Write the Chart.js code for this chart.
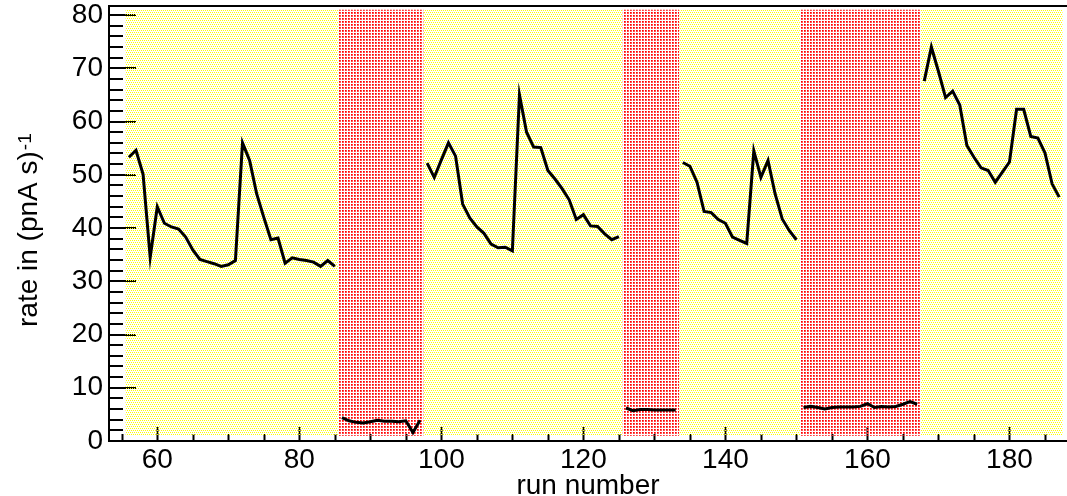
<!DOCTYPE html>
<html>
<head>
<meta charset="utf-8">
<script src="https://cdn.jsdelivr.net/npm/chart.js@4.4.1/dist/chart.umd.min.js"></script>
<style>
  html, body { margin: 0; padding: 0; background: #fff; }
  canvas { display: block; }
</style>
</head>
<body>
<canvas id="rateChart" width="1067" height="496"></canvas>
<script>
// run blocks: yellow = production target, red = empty target
const blockStart = [55.5, 85.5, 97.5, 125.5, 133.5, 150.5, 167.5];
const blockEnd   = [85.5, 97.5, 125.5, 133.5, 150.5, 167.5, 187.5];
const blockKind  = ['y', 'r', 'y', 'r', 'y', 'r', 'y'];

// first run number of each block, rates follow run by run
const firstRun = [56, 86, 98, 126, 134, 151, 168];
const rateA = [53.3, 54.6, 50.1, 34.5, 44.0, 40.9, 40.2, 39.8, 38.3, 35.9, 34.1, 33.7, 33.3, 32.8, 33.1,
               33.9, 56.0, 52.7, 46.4, 42.0, 37.8, 38.1, 33.4, 34.4, 34.1, 33.9, 33.6, 32.8, 33.9, 32.8];
const rateB = [4.4, 3.8, 3.5, 3.4, 3.6, 3.9, 3.7, 3.7, 3.6, 3.8, 1.6, 3.9];
const rateC = [52.2, 49.5, 52.8, 56.0, 53.5, 44.5, 41.9, 40.2, 39.0, 37.0, 36.3, 36.4, 35.7, 65.0,
               58.0, 55.2, 55.1, 50.8, 49.2, 47.4, 45.3, 41.6, 42.5, 40.4, 40.3, 38.9, 37.8, 38.4];
const rateD = [6.2, 5.7, 5.9, 5.9, 5.8, 5.8, 5.8, 5.8];
const rateE = [52.3, 51.6, 48.6, 43.1, 42.9, 41.6, 40.9, 38.3, 37.7, 37.1, 54.5, 49.5, 52.7, 46.4,
               41.7, 39.5, 37.8];
const rateF = [6.3, 6.5, 6.3, 6.0, 6.3, 6.4, 6.4, 6.4, 6.5, 7.0, 6.3, 6.5, 6.4, 6.5, 6.9, 7.4, 6.9];
const rateG = [67.6, 74.0, 69.4, 64.5, 65.7, 63.1, 55.5, 53.3, 51.3, 50.8, 48.6, 50.5, 52.4, 62.3,
               62.3, 57.2, 56.9, 54.1, 48.3, 45.8];
const rates = [rateA, rateB, rateC, rateD, rateE, rateF, rateG];

// tick labels
const xLabels = [60, 80, 100, 120, 140, 160, 180];
const yLabels = [0, 10, 20, 30, 40, 50, 60, 70, 80];

const FONT = 'Liberation Sans, Arial, Helvetica, sans-serif';
const canvas = document.getElementById('rateChart');
const ctx = canvas.getContext('2d');

// dotted fill like a ROOT hatch style: [colour, x, y] per pixel of the tile
function dotPattern(size, cells) {
  const tile = document.createElement('canvas');
  tile.width = tile.height = size;
  const g = tile.getContext('2d');
  cells.forEach(([c, i, j]) => {
    g.fillStyle = c;
    g.fillRect(i, j, 1, 1);
  });
  return ctx.createPattern(tile, 'repeat');
}
const Y = '#ffff00';
const yellowFill = dotPattern(4, [[Y, 0, 0], [Y, 2, 0], [Y, 1, 2], [Y, 3, 2]]);
const redFill = dotPattern(3, [['#ff0000', 0, 0], ['#ff4040', 1, 0], ['#ff4040', 0, 1], ['#ff6060', 1, 1]]);

const blockSets = blockStart.map((s, i) => ({
  data: [{x: s, y: 81}, {x: blockEnd[i], y: 81}],
  fill: {value: 1},
  backgroundColor: blockKind[i] === 'y' ? yellowFill : redFill,
  borderWidth: 0,
  pointRadius: 0,
  order: 2
}));

const lineSets = rates.map((vals, i) => ({
  data: vals.map((v, k) => ({x: firstRun[i] + k, y: v})),
  borderColor: '#000',
  borderWidth: 3,
  pointRadius: 0,
  fill: false,
  tension: 0,
  order: 1
}));

// inward ticks, frame and axis titles
const rootAxes = {
  id: 'rootAxes',
  beforeDatasetsDraw(chart) {
    const {ctx, chartArea, scales: {x, y}} = chart;
    ctx.save();
    ctx.strokeStyle = '#000';
    ctx.lineWidth = 2;
    ctx.beginPath();
    x.ticks.forEach(t => {
      const px = Math.round(x.getPixelForValue(t.value)) + 0.5;
      const len = xLabels.includes(t.value) ? 14 : 7;
      ctx.moveTo(px, chartArea.bottom);
      ctx.lineTo(px, chartArea.bottom - len);
    });
    y.ticks.forEach(t => {
      const py = Math.round(y.getPixelForValue(t.value));
      const len = yLabels.includes(t.value) ? 27 : 14;
      ctx.moveTo(chartArea.left, py);
      ctx.lineTo(chartArea.left + len, py);
    });
    ctx.stroke();
    ctx.restore();
  },
  afterDraw(chart) {
    const {ctx, chartArea} = chart;
    ctx.save();
    ctx.strokeStyle = '#000';
    ctx.lineWidth = 2;
    ctx.beginPath();
    ctx.moveTo(chartArea.left, chartArea.top);
    ctx.lineTo(chart.width, chartArea.top);
    ctx.stroke();

    ctx.fillStyle = '#000';
    ctx.textBaseline = 'alphabetic';
    ctx.font = '28px ' + FONT;
    ctx.textAlign = 'center';
    ctx.fillText('run number', (chartArea.left + chartArea.right) / 2, chart.height - 2);

    ctx.translate(37, 327);
    ctx.rotate(-Math.PI / 2);
    ctx.textAlign = 'left';
    ctx.fillText('rate in (pnA s)', 0, 0);
    const w = ctx.measureText('rate in (pnA s)').width;
    ctx.font = '19px ' + FONT;
    ctx.fillText('-1', w + 1, -6);
    ctx.restore();
  }
};

new Chart(ctx, {
  type: 'line',
  data: {datasets: [...lineSets, ...blockSets]},
  options: {
    responsive: false,
    animation: false,
    devicePixelRatio: 1,
    layout: {padding: {top: 6, right: 0, left: 0, bottom: 0}},
    plugins: {legend: {display: false}, tooltip: {enabled: false}},
    scales: {
      x: {
        type: 'linear',
        min: 53.2,
        max: 188.1,
        afterBuildTicks: scale => {
          const ticks = [];
          for (let v = 55; v <= 185; v += 5) ticks.push({value: v});
          scale.ticks = ticks;
        },
        afterFit: scale => {
          scale.height = 55;
          scale.paddingLeft = 0;
          scale.paddingRight = 0;
        },
        ticks: {
          autoSkip: false,
          maxRotation: 0,
          padding: 2,
          color: '#000',
          font: {family: FONT, size: 28},
          callback: v => xLabels.includes(v) ? String(v) : ''
        },
        grid: {drawOnChartArea: false, drawTicks: false},
        border: {display: true, color: '#000', width: 2}
      },
      y: {
        min: 0,
        max: 81.7,
        afterBuildTicks: scale => {
          const ticks = [];
          for (let v = 0; v <= 80; v += 2) ticks.push({value: v});
          scale.ticks = ticks;
        },
        afterFit: scale => {
          scale.width = 109;
          scale.paddingTop = 0;
          scale.paddingBottom = 0;
        },
        ticks: {
          autoSkip: false,
          padding: 6,
          color: '#000',
          font: {family: FONT, size: 28},
          callback: v => yLabels.includes(v) ? String(v) : ''
        },
        grid: {drawOnChartArea: false, drawTicks: false},
        border: {display: true, color: '#000', width: 2}
      }
    }
  },
  plugins: [rootAxes]
});
</script>
</body>
</html>
